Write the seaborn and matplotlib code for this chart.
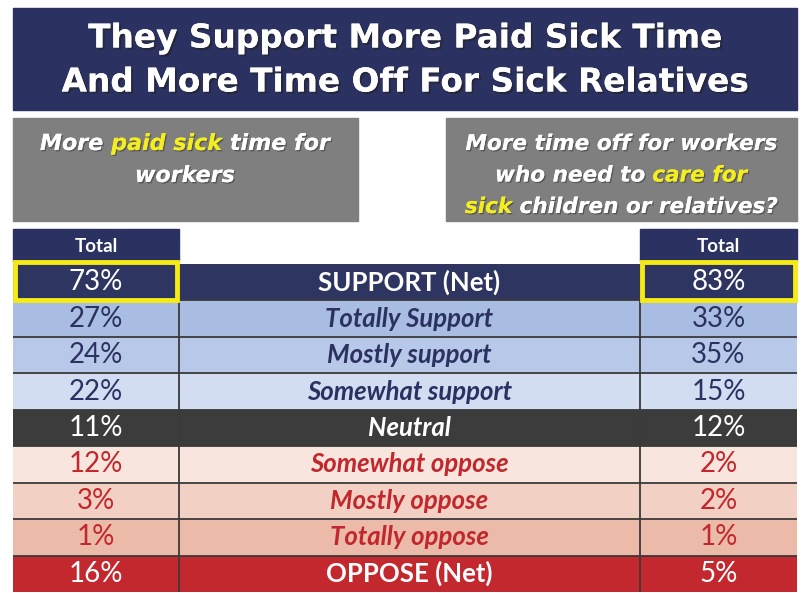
import matplotlib
matplotlib.use('Agg')
import matplotlib.pyplot as plt
import matplotlib.patheffects as pe
from matplotlib.patches import Rectangle
import seaborn as sns

# survey data
row_labels = ['SUPPORT (Net)', 'Totally Support', 'Mostly support', 'Somewhat support',
              'Neutral', 'Somewhat oppose', 'Mostly oppose', 'Totally oppose', 'OPPOSE (Net)']
paid_sick = ['73%', '27%', '24%', '22%', '11%', '12%', '3%', '1%', '16%']
care_time = ['83%', '33%', '35%', '15%', '12%', '2%', '2%', '1%', '5%']
col_header = 'Total'
title_lines = ['They Support More Paid Sick Time', 'And More Time Off For Sick Relatives']
left_question = [[('More ', 'w'), ('paid sick', 'y'), (' time for', 'w')],
                 [('workers', 'w')]]
right_question = [[('More time off for workers', 'w')],
                  [('who need to ', 'w'), ('care for', 'y')],
                  [('sick', 'y'), (' children or relatives?', 'w')]]

NAVY = '#2b3262'
GRAY = '#7f7f7f'
YELLOW = '#f5ea14'
RED = '#c1272d'
row_fill = ['#2e3561', '#a9bde3', '#b8c8e8', '#d2ddf1', '#3c3c3c',
            '#f8e5dd', '#f2d0c3', '#ebbaa9', '#c2282e']
row_text = ['white', NAVY, NAVY, NAVY, 'white', RED, RED, RED, 'white']
label_style = ['normal', 'italic', 'italic', 'italic', 'italic',
               'italic', 'italic', 'italic', 'normal']

sns.set_style('white')
plt.rcParams['font.family'] = ['Lato', 'DejaVu Sans']

W, H = 801, 593
fig = plt.figure(figsize=(W / 100, H / 100), dpi=100)

# overlay axes in pixel units for the header parts
ax = fig.add_axes([0, 0, 1, 1])
ax.set_xlim(0, W)
ax.set_ylim(H, 0)
ax.axis('off')

fig.canvas.draw()
renderer = fig.canvas.get_renderer()


def fit_size(t, target):
    # scale a text so that its width matches the reference
    w = t.get_window_extent(renderer).width
    t.set_fontsize(t.get_fontsize() * target / w)


shadow = [pe.withSimplePatchShadow(offset=(1.5, -1.5), shadow_rgbFace='#222222', alpha=0.6), pe.Normal()]

ax.add_patch(Rectangle((13, 8), 784, 102, color=NAVY, zorder=1))
title_texts = []
for i, line in enumerate(title_lines):
    t = ax.text(405, 38 + i * 44, line, ha='center', va='center', color='white',
                fontsize=24, fontweight='bold', family='DejaVu Sans', path_effects=shadow, zorder=3)
    title_texts.append(t)
fit_size(title_texts[0], 634)
title_texts[1].set_fontsize(title_texts[0].get_fontsize())

ax.add_patch(Rectangle((13, 118), 345, 103, color=GRAY, zorder=1))
ax.add_patch(Rectangle((446, 118), 351, 103, color=GRAY, zorder=1))

colmap = {'w': 'white', 'y': '#f4ee1e'}


def rich_block(xc, y0, dy, lines, target):
    rows = []
    for k, parts in enumerate(lines):
        texts = []
        for s, c in parts:
            kw = dict(color=colmap[c], fontsize=17, fontstyle='italic', fontweight='bold',
                      family='DejaVu Sans', va='bottom', ha='left', zorder=3,
                      path_effects=[pe.withSimplePatchShadow(offset=(1, -1), shadow_rgbFace='#333333', alpha=0.5), pe.Normal()])
            if not texts:
                t = ax.text(xc, y0 + k * dy, s, **kw)
            else:
                t = ax.annotate(s, xy=(1, 0), xycoords=texts[-1], **kw)
            texts.append(t)
        rows.append(texts)
    fig.canvas.draw()
    first = rows[0]
    w = first[-1].get_window_extent(renderer).x1 - first[0].get_window_extent(renderer).x0
    size = 17 * target / w
    for texts in rows:
        for t in texts:
            t.set_fontsize(size)
    fig.canvas.draw()
    for texts in rows:
        x0 = texts[0].get_window_extent(renderer).x0
        x1 = texts[-1].get_window_extent(renderer).x1
        texts[0].set_x(xc - (x1 - x0) / 2)


rich_block(185, 154, 32, left_question, 290)
rich_block(621, 154, 31.5, right_question, 312)

# column headers
for x0, w in [(13, 166), (640, 157)]:
    ax.add_patch(Rectangle((x0, 229), w, 32, color=NAVY, zorder=1))
    ax.text(x0 + w / 2, 246, col_header, ha='center', va='center', color='white',
            fontsize=13.5, fontweight='bold', zorder=3)

# table body
ax_t = fig.add_axes([13 / W, 1 - 592 / H, 784 / W, 328 / H])
table_w = 784
left_w, right_x = 166, 627
sns.barplot(x=[table_w] * len(row_labels), y=row_labels, hue=row_labels,
            palette=row_fill, orient='h', width=1, legend=False, ax=ax_t,
            saturation=1, linewidth=0)
ax_t.set_xlim(0, table_w)
ax_t.set_ylim(len(row_labels) - 0.5, -0.5)
ax_t.axis('off')

ax_t.hlines([i + 0.5 for i in range(len(row_labels) - 1)], 0, table_w, color='#3a3a3a', lw=1.3)
ax_t.vlines([left_w, right_x], -0.5, len(row_labels) - 0.5, color='#3a3a3a', lw=1.3)

label_texts = []
for i, lab in enumerate(row_labels):
    ax_t.text(left_w / 2, i, paid_sick[i], ha='center', va='center',
              color=row_text[i], fontsize=20)
    t = ax_t.text((left_w + right_x) / 2, i, lab, ha='center', va='center',
                  color=row_text[i], fontsize=18, fontweight='bold', fontstyle=label_style[i])
    label_texts.append(t)
    ax_t.text((right_x + table_w) / 2, i, care_time[i], ha='center', va='center',
              color=row_text[i], fontsize=20)

fig.canvas.draw()
fit_size(label_texts[3], 205)
for t in label_texts:
    t.set_fontsize(label_texts[3].get_fontsize())

# highlighted net support cells
for x0, w in [(0, left_w), (right_x, table_w - right_x)]:
    ax_t.add_patch(Rectangle((x0 + 2, -0.55), w - 4, 1.05, fill=False,
                             edgecolor=YELLOW, lw=3.5, clip_on=False, zorder=5))

fig.savefig('out.png', dpi=100)
